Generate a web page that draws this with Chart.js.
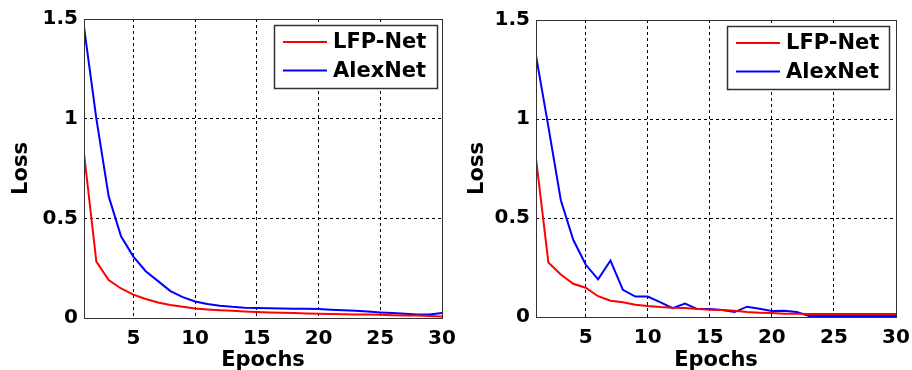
<!DOCTYPE html>
<html>
<head>
<meta charset="utf-8">
<script src="https://cdn.jsdelivr.net/npm/chart.js@4/dist/chart.umd.min.js"></script>
<style>
  html, body { margin: 0; padding: 0; background: #fff; }
  #wrap { position: relative; width: 912px; height: 370px; }
  .panel { position: absolute; top: 0; width: 456px; height: 370px; }
  #p1 { left: 0; }
  #p2 { left: 456px; }
</style>
</head>
<body>
<div id="wrap">
  <div class="panel" id="p1"><canvas id="c1"></canvas></div>
  <div class="panel" id="p2"><canvas id="c2"></canvas></div>
</div>
<script>
// Training epochs
const epochs = [1,2,3,4,5,6,7,8,9,10,11,12,13,14,15,16,17,18,19,20,21,22,23,24,25,26,27,28,29,30];
const xTicks = [5, 10, 15, 20, 25, 30];
const yTicks = [0, 0.5, 1, 1.5];
const seriesNames = ['LFP-Net', 'AlexNet'];

// Left panel losses
const lfpLeft  = [0.825,0.283,0.19,0.148,0.117,0.095,0.078,0.065,0.056,0.048,0.043,0.039,0.036,0.033,0.030,0.028,0.026,0.025,0.023,0.021,0.020,0.019,0.018,0.017,0.016,0.014,0.013,0.012,0.010,0.008];
const alexLeft = [1.46,1.0,0.61,0.41,0.308,0.235,0.185,0.135,0.105,0.083,0.070,0.062,0.056,0.052,0.050,0.049,0.048,0.047,0.046,0.045,0.042,0.039,0.036,0.032,0.028,0.025,0.021,0.017,0.018,0.025];

// Right panel losses
const lfpRight  = [0.80,0.275,0.215,0.168,0.148,0.105,0.082,0.075,0.062,0.055,0.050,0.047,0.046,0.040,0.037,0.035,0.032,0.025,0.022,0.020,0.017,0.016,0.015,0.015,0.015,0.015,0.015,0.015,0.015,0.015];
const alexRight = [1.32,0.96,0.59,0.39,0.265,0.19,0.285,0.137,0.103,0.103,0.075,0.045,0.068,0.040,0.040,0.035,0.025,0.052,0.042,0.030,0.032,0.025,0.005,0.005,0.005,0.005,0.005,0.005,0.005,0.005];

const FONT = "'DejaVu Sans', 'Liberation Sans', Arial, sans-serif";
const colors = ['#ff0000', '#0000ff'];

// Frame around the plot area plus an in-plot legend box
const framePlugin = {
  id: 'frameAndLegend',
  afterDraw(chart, args, opts) {
    const { ctx, chartArea: a } = chart;
    ctx.save();
    ctx.strokeStyle = '#333';
    ctx.lineWidth = 1;
    ctx.setLineDash([]);
    ctx.strokeRect(Math.round(a.left) + 0.5, Math.round(a.top) + 0.5,
                   Math.round(a.right - a.left), Math.round(a.bottom - a.top));

    const bw = opts.width, bh = 63;
    const bx = Math.round(a.right - opts.rightGap - bw), by = Math.round(a.top + 6);
    ctx.fillStyle = '#fff';
    ctx.fillRect(bx, by, bw, bh);
    ctx.strokeStyle = '#333';
    ctx.lineWidth = 1.5;
    ctx.strokeRect(bx + 0.5, by + 0.5, bw, bh);

    ctx.font = "bold 21px " + FONT;
    ctx.textBaseline = 'middle';
    chart.data.datasets.forEach((ds, i) => {
      const cy = by + 17 + i * 28.5;
      ctx.strokeStyle = ds.borderColor;
      ctx.lineWidth = 2;
      ctx.beginPath();
      ctx.moveTo(bx + 9, cy);
      ctx.lineTo(bx + 53, cy);
      ctx.stroke();
      ctx.fillStyle = '#000';
      ctx.fillText(ds.label, bx + 59, cy + 1);
    });
    ctx.restore();
  }
};

function makeChart(id, lfp, alex, cfg) {
  return new Chart(document.getElementById(id), {
    type: 'line',
    data: {
      labels: epochs,
      datasets: [lfp, alex].map((vals, i) => ({
        label: seriesNames[i],
        data: epochs.map((e, k) => ({ x: e, y: vals[k] })),
        borderColor: colors[i],
        borderWidth: 2,
        pointRadius: 0,
        tension: 0,
        fill: false
      }))
    },
    options: {
      responsive: true,
      maintainAspectRatio: false,
      animation: false,
      layout: { padding: { top: cfg.top, right: cfg.right, left: 0, bottom: 0 } },
      plugins: {
        legend: { display: false },
        tooltip: { enabled: false },
        frameAndLegend: { width: cfg.legendW, rightGap: cfg.legendGap }
      },
      scales: {
        x: {
          type: 'linear',
          min: 1, max: 30,
          afterBuildTicks: s => { s.ticks = xTicks.map(v => ({ value: v })); },
          afterFit: s => { s.height = cfg.xh; s.paddingLeft = 0; s.paddingRight = 0; },
          grid: { color: '#000', lineWidth: 1, drawTicks: false },
          border: { display: false, dash: [3, 3] },
          ticks: { color: '#000', padding: 9, font: { family: FONT, size: 20, weight: 'bold' }, maxRotation: 0,
                   callback: v => String(v) },
          title: { display: true, text: 'Epochs', color: '#000', padding: { top: 0, bottom: -3 },
                   font: { family: FONT, size: 21, weight: 'bold' } }
        },
        y: {
          min: 0, max: 1.5,
          afterBuildTicks: s => { s.ticks = yTicks.map(v => ({ value: v })); },
          afterFit: s => { s.width = cfg.yw; s.paddingTop = 0; s.paddingBottom = 0; },
          grid: { color: '#000', lineWidth: 1, drawTicks: false },
          border: { display: false, dash: [3, 3] },
          ticks: { color: '#000', padding: 6, font: { family: FONT, size: 20, weight: 'bold' },
                   callback: v => String(v) },
          title: { display: true, text: 'Loss', color: '#000', padding: { top: 9, bottom: 0 },
                   font: { family: FONT, size: 21, weight: 'bold' } }
        }
      }
    },
    plugins: [framePlugin]
  });
}

makeChart('c1', lfpLeft, alexLeft, { top: 19, right: 14, yw: 84, xh: 52, legendW: 163, legendGap: 5 });
makeChart('c2', lfpRight, alexRight, { top: 20, right: 16, yw: 80, xh: 53, legendW: 162, legendGap: 7 });
</script>
</body>
</html>
